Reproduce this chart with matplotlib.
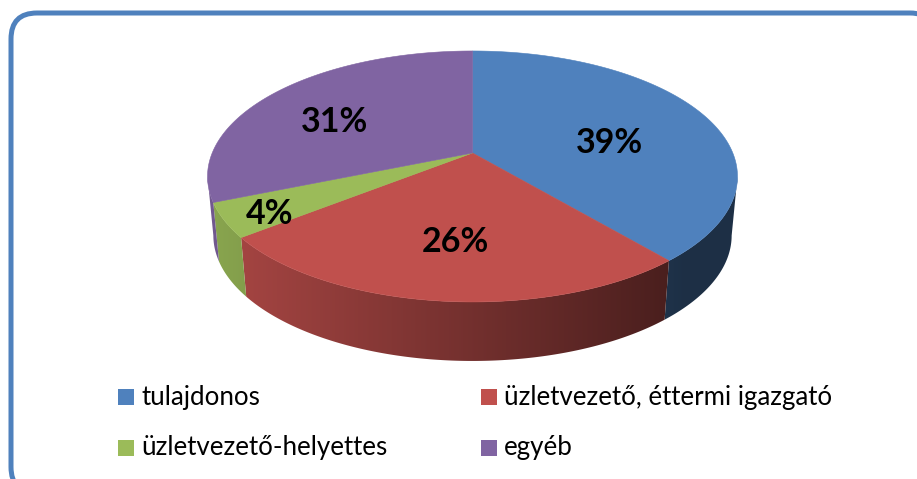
import numpy as np
import matplotlib
matplotlib.use("Agg")
import matplotlib.pyplot as plt
from matplotlib.patches import FancyBboxPatch, Polygon, Rectangle

categorias = ["tulajdonos", "üzletvezető, éttermi igazgató", "üzletvezető-helyettes", "egyéb"]
valores = [38.8, 25.6, 4.4, 31.2]
cores = ["#4f81bd", "#c0504d", "#9bbb59", "#8064a2"]

# pie geometry in pixels (the picture is a 3D pie seen in perspective)
cx, cy = 472.5, 153
k = 0.187
a = 121.1
b = 260.3
altura = 59
encolhe = 0.978


def projeta(ang):
    # angle clockwise from 12 o'clock, gives the point on the top rim
    X = np.sin(ang)
    Y = np.cos(ang)
    d = 1 + k * Y
    return cx + b * X / d, cy - a * Y / d


def sombra(x):
    # side wall gets darker from left to right
    f = 0.88 + (x - 215) * (0.39 - 0.88) / (664 - 215)
    return np.clip(f, 0.37, 0.9)


fig = plt.figure(figsize=(9.17, 4.79), dpi=100)
ax = fig.add_axes([0, 0, 1, 1])

# frame, runs off the right and bottom of the picture
ax.add_patch(FancyBboxPatch((11, 13), 925, 480, boxstyle="round,pad=0,rounding_size=26",
                            fc="white", ec="#4f81bd", lw=3.6, zorder=1))

total = sum(valores)
limites = np.cumsum([0] + valores) / total * 2 * np.pi

# only the front of the rim has a visible wall: between its right and left extremes
volta = np.linspace(0, 2 * np.pi, 2000)
x_volta = projeta(volta)[0]
t_dir = volta[np.argmax(x_volta)]
t_esq = volta[np.argmin(x_volta)]

# side wall, one gradient image clipped to each slice's wall
colunas = np.arange(200, 745)
for i in range(4):
    ini = max(limites[i], t_dir)
    fim = min(limites[i + 1], t_esq)
    if fim <= ini:
        continue
    angs = np.linspace(ini, fim, 200)
    xs, ys = projeta(angs)
    xb = cx + (xs - cx) * encolhe
    yb = ys + altura
    pts = list(zip(xs, ys)) + list(zip(xb[::-1], yb[::-1]))
    parede = Polygon(pts, fc="none", ec="none", transform=ax.transData)
    ax.add_patch(parede)
    rgb = np.array(matplotlib.colors.to_rgb(cores[i]))
    img = np.outer(sombra(colunas), rgb).reshape(1, len(colunas), 3)
    im = ax.imshow(img, extent=(200, 745, 400, 0), aspect="auto", zorder=2, interpolation="bilinear")
    im.set_clip_path(parede)

# top face
for i in range(4):
    angs = np.linspace(limites[i], limites[i + 1], 200)
    xs, ys = projeta(angs)
    pts = [(cx, cy)] + list(zip(xs, ys))
    ax.add_patch(Polygon(pts, fc=cores[i], ec=cores[i], lw=0.4, zorder=3))

# percent labels
pos_rotulos = [(609, 143), (455, 242), (270, 214), (335, 122)]
for v, (x, y) in zip(valores, pos_rotulos):
    ax.text(x, y, f"{v:.0f}%", ha="center", va="center", fontsize=24.5, fontweight="bold",
            family="Lato", color="black", zorder=4)

# legend
pos_legenda = [(118, 397), (481, 397), (118, 448), (481, 448)]
for nome, cor, (x, y) in zip(categorias, cores, pos_legenda):
    ax.add_patch(Rectangle((x, y - 8), 16, 16, fc=cor, ec="none", zorder=4))
    ax.text(x + 23, y, nome, ha="left", va="center", fontsize=18.6, family="Lato",
            color="black", zorder=4)

ax.set_xlim(0, 917)
ax.set_ylim(479, 0)
ax.axis("off")

fig.savefig("out.png", dpi=100)
